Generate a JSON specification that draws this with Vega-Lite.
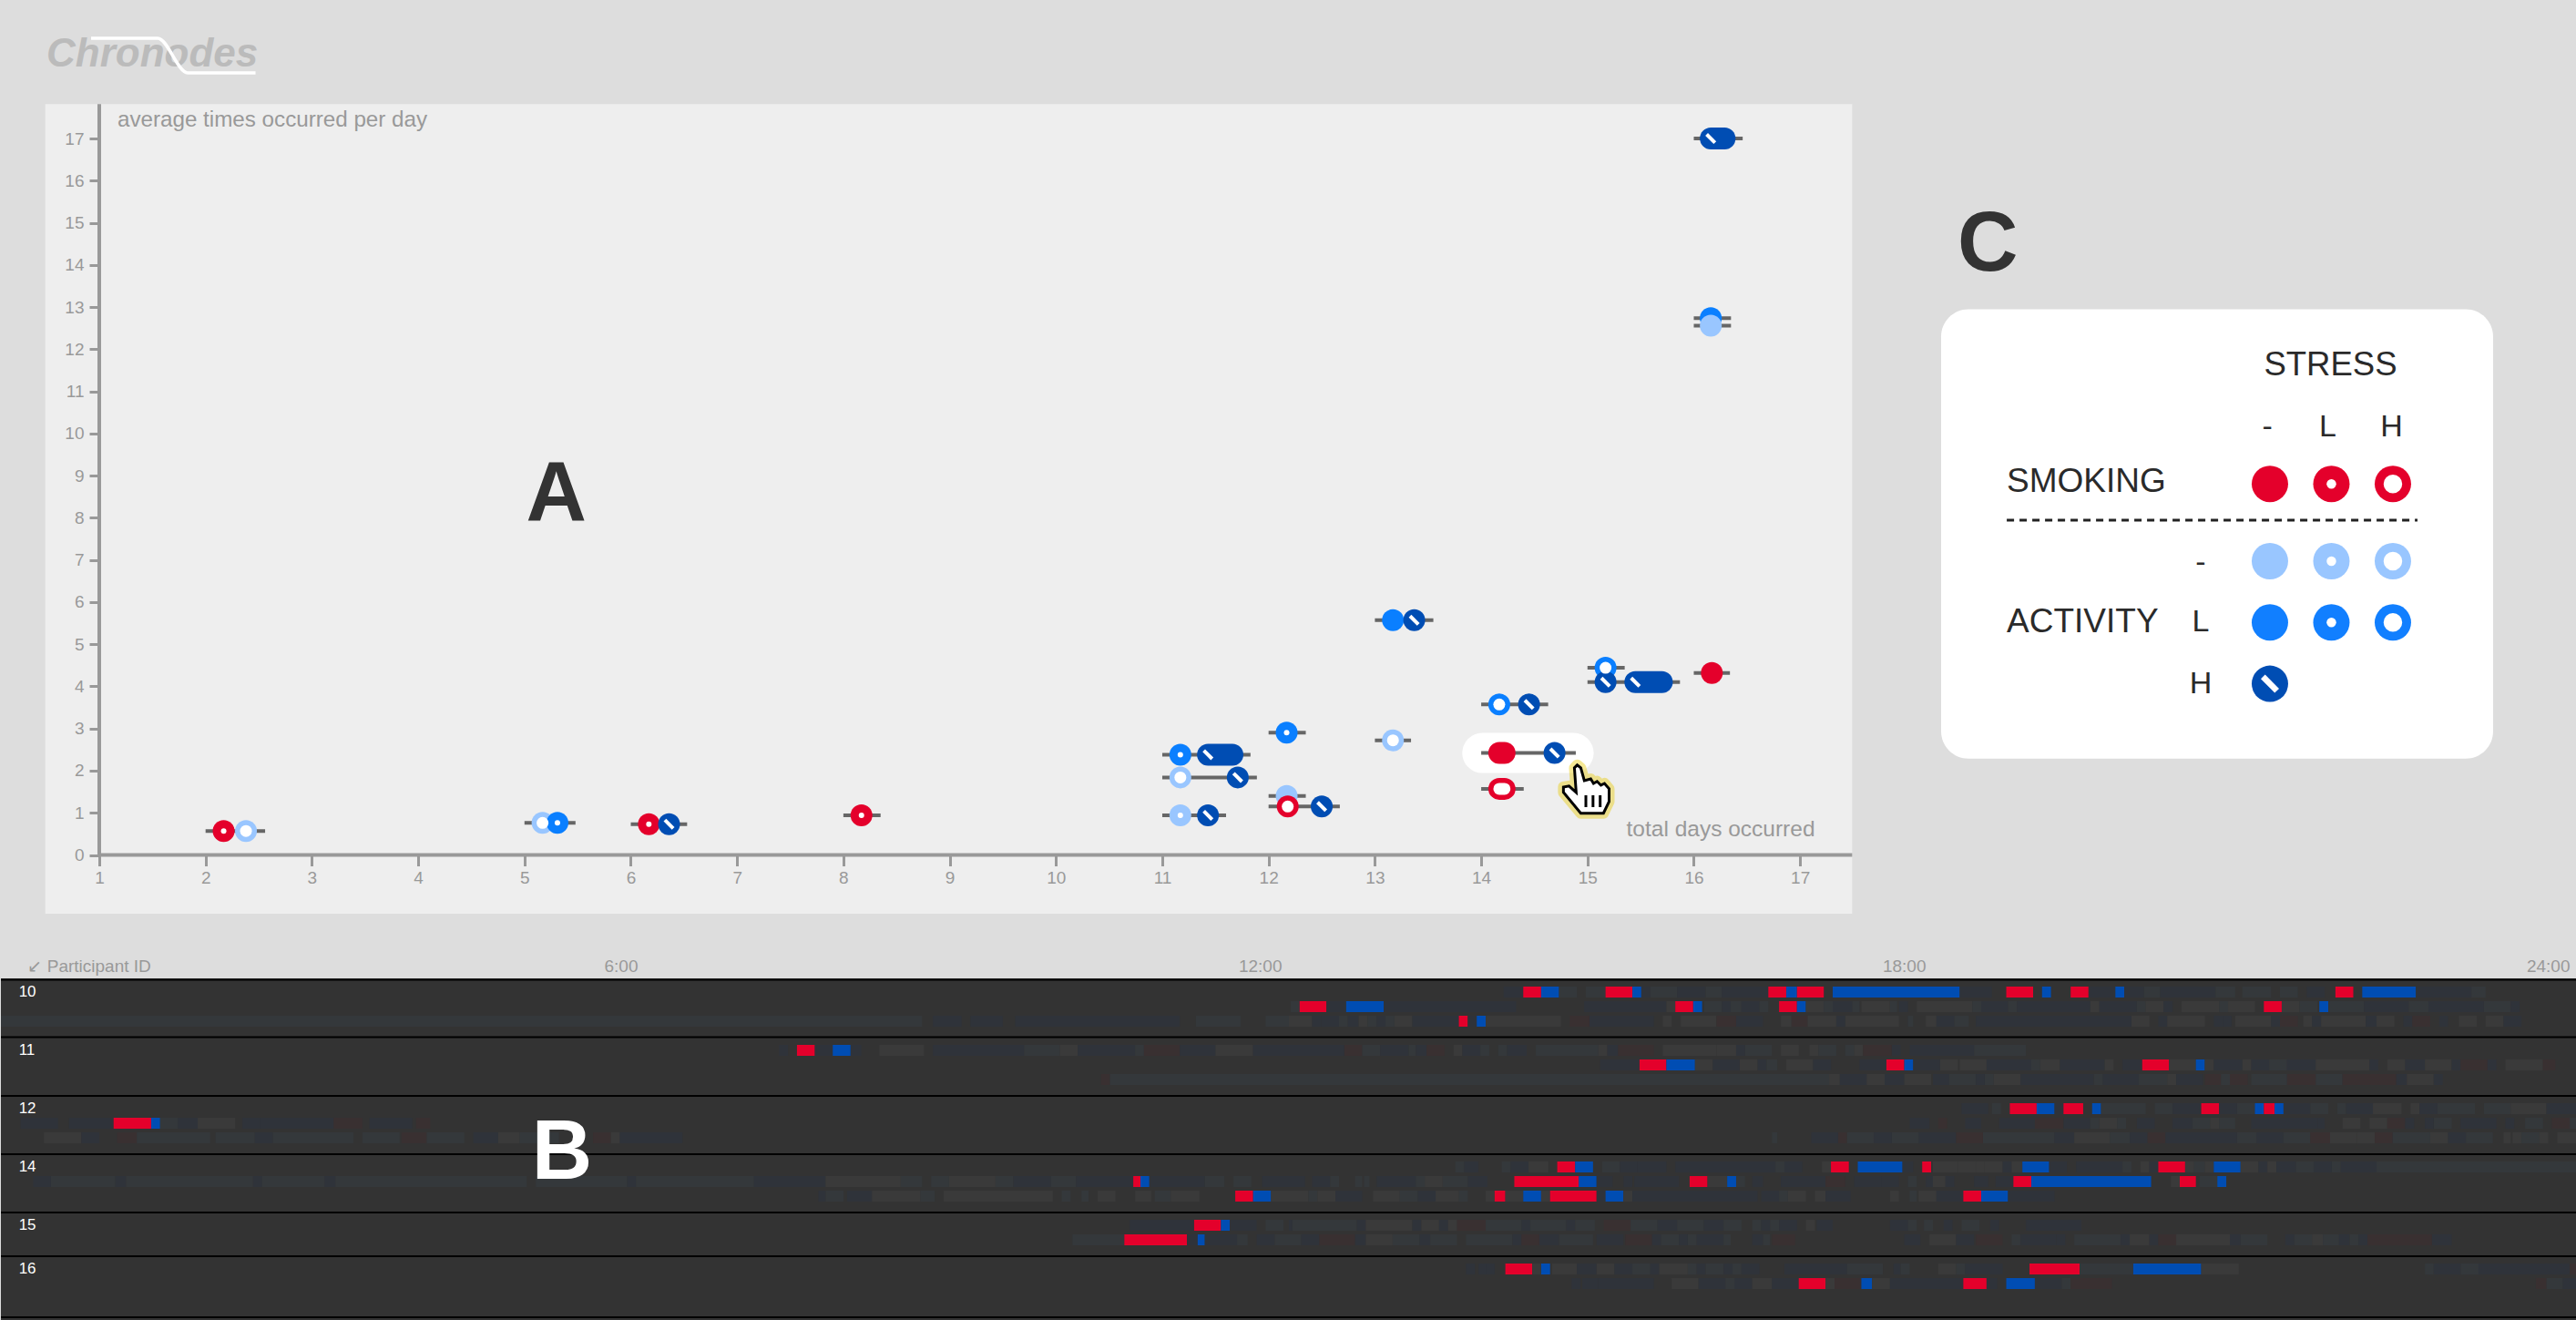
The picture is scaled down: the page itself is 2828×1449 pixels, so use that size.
{"$schema":"https://vega.github.io/schema/vega-lite/v6.json","padding":0,"background":"#dddddd","bounds":"flush","spacing":71,"resolve":{"scale":{"fill":"independent","stroke":"independent"}},"config":{"view":{"stroke":null},"font":"Liberation Sans"},
"datasets":{
"lines":[{"avg":5.57,"from":13,"to":13.55},{"avg":4.44,"from":15,"to":15.35},{"avg":4.1,"from":15,"to":15.87},{"avg":4.32,"from":16,"to":16.34},{"avg":3.57,"from":14,"to":14.63},{"avg":2.9,"from":12,"to":12.35},{"avg":2.72,"from":13,"to":13.34},{"avg":2.42,"from":14,"to":14.89},{"avg":1.57,"from":14,"to":14.4},{"avg":2.38,"from":11,"to":11.83},{"avg":1.84,"from":11,"to":11.89},{"avg":1.4,"from":12,"to":12.35},{"avg":1.15,"from":12,"to":12.67},{"avg":0.94,"from":11,"to":11.6},{"avg":17,"from":16,"to":16.46},{"avg":12.74,"from":16,"to":16.35},{"avg":12.56,"from":16,"to":16.35},{"avg":0.57,"from":2,"to":2.56},{"avg":0.76,"from":5,"to":5.48},{"avg":0.73,"from":6,"to":6.53},{"avg":0.94,"from":8,"to":8.35}],
"glyphs":[{"avg":5.57,"d0":13.17,"d1":13.17,"kind":"blue","stress":"none"},{"avg":5.57,"d0":13.37,"d1":13.37,"kind":"dark","stress":"none"},{"avg":4.44,"d0":15.17,"d1":15.17,"kind":"blue","stress":"high"},{"avg":4.1,"d0":15.17,"d1":15.17,"kind":"dark","stress":"none"},{"avg":4.1,"d0":15.45,"d1":15.7,"kind":"dark","stress":"none"},{"avg":4.32,"d0":16.17,"d1":16.17,"kind":"red","stress":"none"},{"avg":3.57,"d0":14.17,"d1":14.17,"kind":"blue","stress":"high"},{"avg":3.57,"d0":14.45,"d1":14.45,"kind":"dark","stress":"none"},{"avg":2.9,"d0":12.17,"d1":12.17,"kind":"blue","stress":"low"},{"avg":2.72,"d0":13.17,"d1":13.17,"kind":"light","stress":"high"},{"avg":2.42,"d0":14.17,"d1":14.22,"kind":"red","stress":"none"},{"avg":2.42,"d0":14.69,"d1":14.69,"kind":"dark","stress":"none"},{"avg":1.57,"d0":14.17,"d1":14.22,"kind":"red","stress":"high"},{"avg":2.38,"d0":11.17,"d1":11.17,"kind":"blue","stress":"low"},{"avg":2.38,"d0":11.43,"d1":11.66,"kind":"dark","stress":"none"},{"avg":1.84,"d0":11.17,"d1":11.17,"kind":"light","stress":"high"},{"avg":1.84,"d0":11.71,"d1":11.71,"kind":"dark","stress":"none"},{"avg":1.4,"d0":12.17,"d1":12.17,"kind":"light","stress":"none"},{"avg":1.15,"d0":12.18,"d1":12.18,"kind":"red","stress":"high"},{"avg":1.15,"d0":12.5,"d1":12.5,"kind":"dark","stress":"none"},{"avg":0.94,"d0":11.17,"d1":11.17,"kind":"light","stress":"low"},{"avg":0.94,"d0":11.43,"d1":11.43,"kind":"dark","stress":"none"},{"avg":17,"d0":16.16,"d1":16.29,"kind":"dark","stress":"none"},{"avg":12.74,"d0":16.16,"d1":16.16,"kind":"blue","stress":"none"},{"avg":12.56,"d0":16.16,"d1":16.16,"kind":"light","stress":"none"},{"avg":0.57,"d0":2.17,"d1":2.17,"kind":"red","stress":"low"},{"avg":0.57,"d0":2.38,"d1":2.38,"kind":"light","stress":"high"},{"avg":0.76,"d0":5.17,"d1":5.17,"kind":"light","stress":"high"},{"avg":0.76,"d0":5.31,"d1":5.31,"kind":"blue","stress":"low"},{"avg":0.73,"d0":6.17,"d1":6.17,"kind":"red","stress":"low"},{"avg":0.73,"d0":6.36,"d1":6.36,"kind":"dark","stress":"none"},{"avg":0.94,"d0":8.17,"d1":8.17,"kind":"red","stress":"low"}],
"key":[{"col":1,"row":3.26,"kind":"red","stress":"none"},{"col":2,"row":3.26,"kind":"red","stress":"low"},{"col":3,"row":3.26,"kind":"red","stress":"high"},{"col":1,"row":2,"kind":"light","stress":"none"},{"col":2,"row":2,"kind":"light","stress":"low"},{"col":3,"row":2,"kind":"light","stress":"high"},{"col":1,"row":1,"kind":"blue","stress":"none"},{"col":2,"row":1,"kind":"blue","stress":"low"},{"col":3,"row":1,"kind":"blue","stress":"high"},{"col":1,"row":0,"kind":"dark","stress":"none"}],
"bars":[
{"lane":0,"t0":840,"t1":851,"s":"d"},{"lane":0,"t0":851,"t1":861,"s":"S"},{"lane":0,"t0":861,"t1":871,"s":"A"},{"lane":0,"t0":871,"t1":881,"s":"e"},{"lane":0,"t0":886,"t1":897,"s":"e"},{"lane":0,"t0":897,"t1":912,"s":"S"},{"lane":0,"t0":912,"t1":917,"s":"A"},{"lane":0,"t0":917,"t1":922,"s":"d"},{"lane":0,"t0":922,"t1":937,"s":"e"},{"lane":0,"t0":937,"t1":953,"s":"d"},{"lane":0,"t0":953,"t1":962,"s":"e"},{"lane":0,"t0":962,"t1":988,"s":"d"},{"lane":0,"t0":988,"t1":998,"s":"S"},{"lane":0,"t0":998,"t1":1004,"s":"A"},{"lane":0,"t0":1004,"t1":1019,"s":"S"},{"lane":0,"t0":1024,"t1":1095,"s":"A"},{"lane":0,"t0":1095,"t1":1113,"s":"d"},{"lane":0,"t0":1121,"t1":1136,"s":"S"},{"lane":0,"t0":1141,"t1":1146,"s":"A"},{"lane":0,"t0":1157,"t1":1167,"s":"S"},{"lane":0,"t0":1167,"t1":1182,"s":"d"},{"lane":0,"t0":1182,"t1":1187,"s":"A"},{"lane":0,"t0":1187,"t1":1198,"s":"d"},{"lane":0,"t0":1198,"t1":1207,"s":"e"},{"lane":0,"t0":1207,"t1":1238,"s":"d"},{"lane":0,"t0":1238,"t1":1249,"s":"e"},{"lane":0,"t0":1253,"t1":1269,"s":"e"},{"lane":0,"t0":1274,"t1":1284,"s":"e"},{"lane":0,"t0":1289,"t1":1299,"s":"d"},{"lane":0,"t0":1305,"t1":1315,"s":"S"},{"lane":0,"t0":1320,"t1":1350,"s":"A"},{"lane":0,"t0":1350,"t1":1381,"s":"d"},{"lane":0,"t0":1381,"t1":1389,"s":"e"},
{"lane":1,"t0":721,"t1":726,"s":"e"},{"lane":1,"t0":726,"t1":741,"s":"S"},{"lane":1,"t0":741,"t1":752,"s":"d"},{"lane":1,"t0":752,"t1":773,"s":"A"},{"lane":1,"t0":773,"t1":847,"s":"d"},{"lane":1,"t0":885,"t1":931,"s":"d"},{"lane":1,"t0":931,"t1":936,"s":"g"},{"lane":1,"t0":936,"t1":946,"s":"S"},{"lane":1,"t0":946,"t1":951,"s":"A"},{"lane":1,"t0":952,"t1":962,"s":"e"},{"lane":1,"t0":962,"t1":967,"s":"d"},{"lane":1,"t0":967,"t1":973,"s":"e"},{"lane":1,"t0":973,"t1":983,"s":"d"},{"lane":1,"t0":983,"t1":988,"s":"e"},{"lane":1,"t0":994,"t1":1004,"s":"S"},{"lane":1,"t0":1004,"t1":1009,"s":"A"},{"lane":1,"t0":1009,"t1":1019,"s":"g"},{"lane":1,"t0":1019,"t1":1024,"s":"e"},{"lane":1,"t0":1024,"t1":1035,"s":"d"},{"lane":1,"t0":1035,"t1":1039,"s":"e"},{"lane":1,"t0":1040,"t1":1056,"s":"g"},{"lane":1,"t0":1056,"t1":1060,"s":"e"},{"lane":1,"t0":1061,"t1":1066,"s":"d"},{"lane":1,"t0":1071,"t1":1102,"s":"g"},{"lane":1,"t0":1102,"t1":1107,"s":"e"},{"lane":1,"t0":1107,"t1":1122,"s":"d"},{"lane":1,"t0":1122,"t1":1127,"s":"e"},{"lane":1,"t0":1127,"t1":1168,"s":"d"},{"lane":1,"t0":1168,"t1":1173,"s":"g"},{"lane":1,"t0":1173,"t1":1194,"s":"d"},{"lane":1,"t0":1194,"t1":1199,"s":"e"},{"lane":1,"t0":1199,"t1":1209,"s":"g"},{"lane":1,"t0":1209,"t1":1214,"s":"d"},{"lane":1,"t0":1219,"t1":1240,"s":"g"},{"lane":1,"t0":1240,"t1":1245,"s":"e"},{"lane":1,"t0":1245,"t1":1260,"s":"g"},{"lane":1,"t0":1265,"t1":1275,"s":"S"},{"lane":1,"t0":1275,"t1":1285,"s":"g"},{"lane":1,"t0":1285,"t1":1295,"s":"e"},{"lane":1,"t0":1296,"t1":1301,"s":"A"},{"lane":1,"t0":1301,"t1":1321,"s":"e"},{"lane":1,"t0":1321,"t1":1346,"s":"d"},{"lane":1,"t0":1346,"t1":1357,"s":"e"},{"lane":1,"t0":1357,"t1":1388,"s":"d"},{"lane":1,"t0":1388,"t1":1403,"s":"e"},{"lane":1,"t0":1403,"t1":1408,"s":"d"},
{"lane":2,"t0":0,"t1":515,"s":"e"},{"lane":2,"t0":521,"t1":537,"s":"d"},{"lane":2,"t0":542,"t1":560,"s":"d"},{"lane":2,"t0":567,"t1":659,"s":"d"},{"lane":2,"t0":668,"t1":693,"s":"e"},{"lane":2,"t0":707,"t1":720,"s":"e"},{"lane":2,"t0":720,"t1":733,"s":"g"},{"lane":2,"t0":733,"t1":738,"s":"d"},{"lane":2,"t0":738,"t1":748,"s":"d"},{"lane":2,"t0":748,"t1":753,"s":"e"},{"lane":2,"t0":753,"t1":759,"s":"d"},{"lane":2,"t0":759,"t1":764,"s":"g"},{"lane":2,"t0":764,"t1":769,"s":"e"},{"lane":2,"t0":769,"t1":774,"s":"d"},{"lane":2,"t0":774,"t1":779,"s":"e"},{"lane":2,"t0":779,"t1":789,"s":"g"},{"lane":2,"t0":789,"t1":815,"s":"d"},{"lane":2,"t0":815,"t1":820,"s":"S"},{"lane":2,"t0":820,"t1":825,"s":"d"},{"lane":2,"t0":825,"t1":830,"s":"A"},{"lane":2,"t0":830,"t1":872,"s":"g"},{"lane":2,"t0":877,"t1":888,"s":"r"},{"lane":2,"t0":888,"t1":924,"s":"d"},{"lane":2,"t0":929,"t1":934,"s":"g"},{"lane":2,"t0":939,"t1":959,"s":"g"},{"lane":2,"t0":959,"t1":970,"s":"r"},{"lane":2,"t0":970,"t1":985,"s":"d"},{"lane":2,"t0":995,"t1":1001,"s":"g"},{"lane":2,"t0":1001,"t1":1010,"s":"r"},{"lane":2,"t0":1010,"t1":1026,"s":"g"},{"lane":2,"t0":1026,"t1":1031,"s":"d"},{"lane":2,"t0":1031,"t1":1061,"s":"g"},{"lane":2,"t0":1066,"t1":1069,"s":"e"},{"lane":2,"t0":1076,"t1":1082,"s":"g"},{"lane":2,"t0":1082,"t1":1092,"s":"d"},{"lane":2,"t0":1092,"t1":1100,"s":"e"},{"lane":2,"t0":1104,"t1":1191,"s":"d"},{"lane":2,"t0":1191,"t1":1201,"s":"g"},{"lane":2,"t0":1206,"t1":1211,"s":"d"},{"lane":2,"t0":1211,"t1":1232,"s":"g"},{"lane":2,"t0":1237,"t1":1242,"s":"d"},{"lane":2,"t0":1242,"t1":1247,"s":"d"},{"lane":2,"t0":1249,"t1":1269,"s":"g"},{"lane":2,"t0":1269,"t1":1274,"s":"d"},{"lane":2,"t0":1274,"t1":1284,"s":"r"},{"lane":2,"t0":1287,"t1":1292,"s":"g"},{"lane":2,"t0":1292,"t1":1297,"s":"d"},{"lane":2,"t0":1297,"t1":1322,"s":"g"},{"lane":2,"t0":1322,"t1":1328,"s":"d"},{"lane":2,"t0":1328,"t1":1338,"s":"g"},{"lane":2,"t0":1343,"t1":1348,"s":"d"},{"lane":2,"t0":1348,"t1":1358,"s":"r"},{"lane":2,"t0":1363,"t1":1368,"s":"d"},{"lane":2,"t0":1374,"t1":1384,"s":"g"},{"lane":2,"t0":1389,"t1":1399,"s":"g"},{"lane":2,"t0":1399,"t1":1409,"s":"d"},
{"lane":4,"t0":435,"t1":440,"s":"d"},{"lane":4,"t0":445,"t1":455,"s":"S"},{"lane":4,"t0":455,"t1":465,"s":"d"},{"lane":4,"t0":465,"t1":475,"s":"A"},{"lane":4,"t0":475,"t1":481,"s":"d"},{"lane":4,"t0":491,"t1":516,"s":"g"},{"lane":4,"t0":521,"t1":572,"s":"d"},{"lane":4,"t0":572,"t1":592,"s":"e"},{"lane":4,"t0":592,"t1":602,"s":"g"},{"lane":4,"t0":602,"t1":634,"s":"d"},{"lane":4,"t0":634,"t1":639,"s":"e"},{"lane":4,"t0":639,"t1":659,"s":"r"},{"lane":4,"t0":659,"t1":679,"s":"d"},{"lane":4,"t0":679,"t1":700,"s":"g"},{"lane":4,"t0":700,"t1":751,"s":"d"},{"lane":4,"t0":751,"t1":761,"s":"r"},{"lane":4,"t0":761,"t1":771,"s":"e"},{"lane":4,"t0":771,"t1":787,"s":"d"},{"lane":4,"t0":787,"t1":791,"s":"e"},{"lane":4,"t0":791,"t1":797,"s":"d"},{"lane":4,"t0":797,"t1":807,"s":"r"},{"lane":4,"t0":812,"t1":817,"s":"g"},{"lane":4,"t0":817,"t1":827,"s":"d"},{"lane":4,"t0":827,"t1":832,"s":"e"},{"lane":4,"t0":837,"t1":842,"s":"e"},{"lane":4,"t0":842,"t1":853,"s":"d"},{"lane":4,"t0":858,"t1":893,"s":"e"},{"lane":4,"t0":893,"t1":898,"s":"g"},{"lane":4,"t0":898,"t1":904,"s":"d"},{"lane":4,"t0":904,"t1":924,"s":"r"},{"lane":4,"t0":929,"t1":959,"s":"g"},{"lane":4,"t0":959,"t1":970,"s":"g"},{"lane":4,"t0":970,"t1":975,"s":"d"},{"lane":4,"t0":975,"t1":990,"s":"e"},{"lane":4,"t0":995,"t1":1005,"s":"g"},{"lane":4,"t0":1011,"t1":1016,"s":"g"},{"lane":4,"t0":1016,"t1":1026,"s":"e"},{"lane":4,"t0":1031,"t1":1036,"s":"e"},{"lane":4,"t0":1036,"t1":1041,"s":"g"},{"lane":4,"t0":1041,"t1":1057,"s":"r"},{"lane":4,"t0":1057,"t1":1062,"s":"d"},{"lane":4,"t0":1067,"t1":1103,"s":"d"},{"lane":4,"t0":1103,"t1":1132,"s":"e"},
{"lane":5,"t0":894,"t1":916,"s":"d"},{"lane":5,"t0":916,"t1":931,"s":"S"},{"lane":5,"t0":931,"t1":947,"s":"A"},{"lane":5,"t0":947,"t1":957,"s":"g"},{"lane":5,"t0":957,"t1":972,"s":"d"},{"lane":5,"t0":972,"t1":982,"s":"g"},{"lane":5,"t0":982,"t1":987,"s":"d"},{"lane":5,"t0":987,"t1":993,"s":"e"},{"lane":5,"t0":998,"t1":1013,"s":"g"},{"lane":5,"t0":1013,"t1":1023,"s":"d"},{"lane":5,"t0":1039,"t1":1054,"s":"d"},{"lane":5,"t0":1054,"t1":1064,"s":"S"},{"lane":5,"t0":1064,"t1":1069,"s":"A"},{"lane":5,"t0":1069,"t1":1084,"s":"d"},{"lane":5,"t0":1084,"t1":1094,"s":"g"},{"lane":5,"t0":1095,"t1":1110,"s":"g"},{"lane":5,"t0":1110,"t1":1135,"s":"d"},{"lane":5,"t0":1135,"t1":1140,"s":"e"},{"lane":5,"t0":1140,"t1":1151,"s":"g"},{"lane":5,"t0":1151,"t1":1176,"s":"d"},{"lane":5,"t0":1176,"t1":1181,"s":"g"},{"lane":5,"t0":1186,"t1":1197,"s":"d"},{"lane":5,"t0":1197,"t1":1212,"s":"S"},{"lane":5,"t0":1212,"t1":1227,"s":"g"},{"lane":5,"t0":1227,"t1":1232,"s":"A"},{"lane":5,"t0":1232,"t1":1237,"s":"g"},{"lane":5,"t0":1237,"t1":1253,"s":"d"},{"lane":5,"t0":1253,"t1":1258,"s":"g"},{"lane":5,"t0":1258,"t1":1268,"s":"d"},{"lane":5,"t0":1268,"t1":1278,"s":"e"},{"lane":5,"t0":1278,"t1":1294,"s":"d"},{"lane":5,"t0":1294,"t1":1324,"s":"g"},{"lane":5,"t0":1324,"t1":1329,"s":"d"},{"lane":5,"t0":1334,"t1":1344,"s":"g"},{"lane":5,"t0":1344,"t1":1355,"s":"d"},{"lane":5,"t0":1355,"t1":1370,"s":"g"},{"lane":5,"t0":1370,"t1":1375,"s":"d"},{"lane":5,"t0":1375,"t1":1390,"s":"r"},{"lane":5,"t0":1390,"t1":1395,"s":"d"},{"lane":5,"t0":1400,"t1":1421,"s":"g"},{"lane":5,"t0":1421,"t1":1428,"s":"r"},
{"lane":6,"t0":615,"t1":620,"s":"r"},{"lane":6,"t0":620,"t1":1022,"s":"e"},{"lane":6,"t0":1022,"t1":1028,"s":"g"},{"lane":6,"t0":1028,"t1":1043,"s":"d"},{"lane":6,"t0":1043,"t1":1053,"s":"g"},{"lane":6,"t0":1053,"t1":1064,"s":"d"},{"lane":6,"t0":1064,"t1":1079,"s":"g"},{"lane":6,"t0":1080,"t1":1089,"s":"d"},{"lane":6,"t0":1089,"t1":1104,"s":"e"},{"lane":6,"t0":1104,"t1":1109,"s":"d"},{"lane":6,"t0":1109,"t1":1114,"s":"e"},{"lane":6,"t0":1114,"t1":1129,"s":"g"},{"lane":6,"t0":1129,"t1":1170,"s":"d"},{"lane":6,"t0":1170,"t1":1175,"s":"e"},{"lane":6,"t0":1175,"t1":1195,"s":"d"},{"lane":6,"t0":1195,"t1":1211,"s":"e"},{"lane":6,"t0":1211,"t1":1216,"s":"g"},{"lane":6,"t0":1216,"t1":1231,"s":"d"},{"lane":6,"t0":1232,"t1":1241,"s":"r"},{"lane":6,"t0":1241,"t1":1246,"s":"e"},{"lane":6,"t0":1246,"t1":1256,"s":"r"},{"lane":6,"t0":1258,"t1":1278,"s":"e"},{"lane":6,"t0":1278,"t1":1294,"s":"r"},{"lane":6,"t0":1294,"t1":1309,"s":"e"},{"lane":6,"t0":1309,"t1":1339,"s":"r"},{"lane":6,"t0":1339,"t1":1345,"s":"d"},{"lane":6,"t0":1345,"t1":1360,"s":"g"},{"lane":6,"t0":1360,"t1":1365,"s":"d"},
{"lane":8,"t0":1096,"t1":1111,"s":"d"},{"lane":8,"t0":1113,"t1":1118,"s":"e"},{"lane":8,"t0":1123,"t1":1138,"s":"S"},{"lane":8,"t0":1138,"t1":1148,"s":"A"},{"lane":8,"t0":1148,"t1":1153,"s":"d"},{"lane":8,"t0":1153,"t1":1164,"s":"S"},{"lane":8,"t0":1169,"t1":1174,"s":"A"},{"lane":8,"t0":1174,"t1":1199,"s":"e"},{"lane":8,"t0":1204,"t1":1214,"s":"e"},{"lane":8,"t0":1214,"t1":1230,"s":"d"},{"lane":8,"t0":1230,"t1":1240,"s":"S"},{"lane":8,"t0":1240,"t1":1250,"s":"d"},{"lane":8,"t0":1250,"t1":1260,"s":"e"},{"lane":8,"t0":1260,"t1":1265,"s":"A"},{"lane":8,"t0":1265,"t1":1271,"s":"S"},{"lane":8,"t0":1271,"t1":1276,"s":"A"},{"lane":8,"t0":1276,"t1":1291,"s":"d"},{"lane":8,"t0":1291,"t1":1301,"s":"e"},{"lane":8,"t0":1306,"t1":1311,"s":"e"},{"lane":8,"t0":1311,"t1":1326,"s":"d"},{"lane":8,"t0":1326,"t1":1342,"s":"g"},{"lane":8,"t0":1347,"t1":1352,"s":"g"},{"lane":8,"t0":1352,"t1":1362,"s":"d"},{"lane":8,"t0":1362,"t1":1383,"s":"e"},{"lane":8,"t0":1388,"t1":1403,"s":"e"},{"lane":8,"t0":1403,"t1":1423,"s":"g"},{"lane":8,"t0":1423,"t1":1440,"s":"d"},
{"lane":9,"t0":11,"t1":32,"s":"d"},{"lane":9,"t0":38,"t1":63,"s":"d"},{"lane":9,"t0":63,"t1":84,"s":"S"},{"lane":9,"t0":84,"t1":89,"s":"A"},{"lane":9,"t0":89,"t1":99,"s":"e"},{"lane":9,"t0":99,"t1":110,"s":"d"},{"lane":9,"t0":110,"t1":131,"s":"g"},{"lane":9,"t0":135,"t1":145,"s":"d"},{"lane":9,"t0":145,"t1":186,"s":"d"},{"lane":9,"t0":186,"t1":202,"s":"r"},{"lane":9,"t0":206,"t1":230,"s":"d"},{"lane":9,"t0":232,"t1":240,"s":"r"},{"lane":9,"t0":1067,"t1":1078,"s":"d"},{"lane":9,"t0":1083,"t1":1088,"s":"r"},{"lane":9,"t0":1098,"t1":1107,"s":"d"},{"lane":9,"t0":1117,"t1":1137,"s":"d"},{"lane":9,"t0":1137,"t1":1153,"s":"r"},{"lane":9,"t0":1153,"t1":1168,"s":"d"},{"lane":9,"t0":1168,"t1":1173,"s":"e"},{"lane":9,"t0":1173,"t1":1183,"s":"g"},{"lane":9,"t0":1183,"t1":1188,"s":"e"},{"lane":9,"t0":1194,"t1":1204,"s":"d"},{"lane":9,"t0":1214,"t1":1225,"s":"d"},{"lane":9,"t0":1225,"t1":1235,"s":"e"},{"lane":9,"t0":1235,"t1":1240,"s":"g"},{"lane":9,"t0":1240,"t1":1249,"s":"e"},{"lane":9,"t0":1258,"t1":1295,"s":"d"},{"lane":9,"t0":1295,"t1":1299,"s":"d"},{"lane":9,"t0":1309,"t1":1319,"s":"g"},{"lane":9,"t0":1324,"t1":1334,"s":"g"},{"lane":9,"t0":1334,"t1":1344,"s":"r"},{"lane":9,"t0":1344,"t1":1349,"s":"d"},{"lane":9,"t0":1355,"t1":1360,"s":"d"},{"lane":9,"t0":1360,"t1":1370,"s":"e"},{"lane":9,"t0":1375,"t1":1395,"s":"d"},{"lane":9,"t0":1400,"t1":1405,"s":"d"},{"lane":9,"t0":1411,"t1":1421,"s":"e"},{"lane":9,"t0":1426,"t1":1436,"s":"r"},{"lane":9,"t0":1436,"t1":1440,"s":"e"},
{"lane":10,"t0":24,"t1":45,"s":"g"},{"lane":10,"t0":45,"t1":55,"s":"d"},{"lane":10,"t0":65,"t1":76,"s":"r"},{"lane":10,"t0":76,"t1":117,"s":"e"},{"lane":10,"t0":120,"t1":142,"s":"e"},{"lane":10,"t0":142,"t1":152,"s":"d"},{"lane":10,"t0":152,"t1":197,"s":"e"},{"lane":10,"t0":202,"t1":223,"s":"e"},{"lane":10,"t0":224,"t1":238,"s":"r"},{"lane":10,"t0":238,"t1":259,"s":"e"},{"lane":10,"t0":264,"t1":278,"s":"d"},{"lane":10,"t0":278,"t1":290,"s":"g"},{"lane":10,"t0":290,"t1":312,"s":"e"},{"lane":10,"t0":331,"t1":341,"s":"r"},{"lane":10,"t0":341,"t1":346,"s":"g"},{"lane":10,"t0":346,"t1":381,"s":"d"},{"lane":10,"t0":990,"t1":993,"s":"e"},{"lane":10,"t0":1012,"t1":1027,"s":"d"},{"lane":10,"t0":1027,"t1":1032,"s":"r"},{"lane":10,"t0":1032,"t1":1047,"s":"e"},{"lane":10,"t0":1047,"t1":1057,"s":"d"},{"lane":10,"t0":1057,"t1":1072,"s":"e"},{"lane":10,"t0":1072,"t1":1093,"s":"d"},{"lane":10,"t0":1093,"t1":1108,"s":"r"},{"lane":10,"t0":1108,"t1":1148,"s":"e"},{"lane":10,"t0":1148,"t1":1159,"s":"d"},{"lane":10,"t0":1159,"t1":1179,"s":"g"},{"lane":10,"t0":1179,"t1":1190,"s":"e"},{"lane":10,"t0":1190,"t1":1200,"s":"d"},{"lane":10,"t0":1200,"t1":1210,"s":"r"},{"lane":10,"t0":1210,"t1":1250,"s":"d"},{"lane":10,"t0":1250,"t1":1261,"s":"e"},{"lane":10,"t0":1261,"t1":1276,"s":"d"},{"lane":10,"t0":1276,"t1":1291,"s":"e"},{"lane":10,"t0":1291,"t1":1302,"s":"r"},{"lane":10,"t0":1302,"t1":1317,"s":"g"},{"lane":10,"t0":1317,"t1":1327,"s":"g"},{"lane":10,"t0":1327,"t1":1337,"s":"r"},{"lane":10,"t0":1337,"t1":1358,"s":"e"},{"lane":10,"t0":1358,"t1":1368,"s":"g"},{"lane":10,"t0":1368,"t1":1378,"s":"d"},{"lane":10,"t0":1378,"t1":1393,"s":"e"},{"lane":10,"t0":1399,"t1":1403,"s":"g"},{"lane":10,"t0":1404,"t1":1409,"s":"g"},{"lane":10,"t0":1409,"t1":1419,"s":"e"},{"lane":10,"t0":1419,"t1":1424,"s":"g"},{"lane":10,"t0":1429,"t1":1440,"s":"g"},
{"lane":12,"t0":813,"t1":818,"s":"e"},{"lane":12,"t0":818,"t1":826,"s":"d"},{"lane":12,"t0":839,"t1":844,"s":"e"},{"lane":12,"t0":844,"t1":854,"s":"d"},{"lane":12,"t0":854,"t1":865,"s":"g"},{"lane":12,"t0":870,"t1":880,"s":"S"},{"lane":12,"t0":880,"t1":890,"s":"A"},{"lane":12,"t0":895,"t1":905,"s":"e"},{"lane":12,"t0":905,"t1":915,"s":"d"},{"lane":12,"t0":915,"t1":931,"s":"d"},{"lane":12,"t0":936,"t1":992,"s":"d"},{"lane":12,"t0":992,"t1":997,"s":"e"},{"lane":12,"t0":997,"t1":1007,"s":"d"},{"lane":12,"t0":1018,"t1":1023,"s":"g"},{"lane":12,"t0":1023,"t1":1033,"s":"S"},{"lane":12,"t0":1038,"t1":1063,"s":"A"},{"lane":12,"t0":1063,"t1":1069,"s":"d"},{"lane":12,"t0":1074,"t1":1079,"s":"S"},{"lane":12,"t0":1080,"t1":1094,"s":"g"},{"lane":12,"t0":1094,"t1":1104,"s":"g"},{"lane":12,"t0":1104,"t1":1109,"s":"g"},{"lane":12,"t0":1109,"t1":1119,"s":"g"},{"lane":12,"t0":1119,"t1":1124,"s":"d"},{"lane":12,"t0":1124,"t1":1130,"s":"g"},{"lane":12,"t0":1130,"t1":1145,"s":"A"},{"lane":12,"t0":1145,"t1":1155,"s":"d"},{"lane":12,"t0":1160,"t1":1186,"s":"d"},{"lane":12,"t0":1186,"t1":1191,"s":"e"},{"lane":12,"t0":1196,"t1":1201,"s":"g"},{"lane":12,"t0":1201,"t1":1206,"s":"d"},{"lane":12,"t0":1206,"t1":1221,"s":"S"},{"lane":12,"t0":1221,"t1":1226,"s":"g"},{"lane":12,"t0":1226,"t1":1232,"s":"e"},{"lane":12,"t0":1232,"t1":1237,"s":"g"},{"lane":12,"t0":1237,"t1":1252,"s":"A"},{"lane":12,"t0":1252,"t1":1262,"s":"g"},{"lane":12,"t0":1262,"t1":1267,"s":"d"},{"lane":12,"t0":1267,"t1":1272,"s":"g"},{"lane":12,"t0":1272,"t1":1283,"s":"d"},{"lane":12,"t0":1283,"t1":1293,"s":"e"},{"lane":12,"t0":1293,"t1":1303,"s":"d"},{"lane":12,"t0":1303,"t1":1308,"s":"e"},{"lane":12,"t0":1308,"t1":1328,"s":"d"},{"lane":12,"t0":1328,"t1":1440,"s":"e"},
{"lane":13,"t0":18,"t1":28,"s":"d"},{"lane":13,"t0":28,"t1":64,"s":"e"},{"lane":13,"t0":64,"t1":70,"s":"d"},{"lane":13,"t0":70,"t1":141,"s":"e"},{"lane":13,"t0":141,"t1":146,"s":"d"},{"lane":13,"t0":146,"t1":181,"s":"e"},{"lane":13,"t0":181,"t1":187,"s":"d"},{"lane":13,"t0":187,"t1":294,"s":"e"},{"lane":13,"t0":299,"t1":350,"s":"e"},{"lane":13,"t0":350,"t1":355,"s":"d"},{"lane":13,"t0":355,"t1":421,"s":"e"},{"lane":13,"t0":421,"t1":461,"s":"d"},{"lane":13,"t0":461,"t1":503,"s":"g"},{"lane":13,"t0":503,"t1":515,"s":"e"},{"lane":13,"t0":520,"t1":530,"s":"e"},{"lane":13,"t0":530,"t1":556,"s":"g"},{"lane":13,"t0":556,"t1":566,"s":"e"},{"lane":13,"t0":566,"t1":587,"s":"d"},{"lane":13,"t0":587,"t1":601,"s":"e"},{"lane":13,"t0":601,"t1":633,"s":"d"},{"lane":13,"t0":633,"t1":637,"s":"S"},{"lane":13,"t0":637,"t1":642,"s":"A"},{"lane":13,"t0":642,"t1":673,"s":"d"},{"lane":13,"t0":673,"t1":684,"s":"e"},{"lane":13,"t0":689,"t1":699,"s":"e"},{"lane":13,"t0":705,"t1":729,"s":"d"},{"lane":13,"t0":733,"t1":743,"s":"d"},{"lane":13,"t0":743,"t1":748,"s":"e"},{"lane":13,"t0":757,"t1":761,"s":"e"},{"lane":13,"t0":762,"t1":765,"s":"e"},{"lane":13,"t0":769,"t1":791,"s":"d"},{"lane":13,"t0":791,"t1":796,"s":"e"},{"lane":13,"t0":796,"t1":806,"s":"g"},{"lane":13,"t0":806,"t1":820,"s":"e"},{"lane":13,"t0":820,"t1":831,"s":"d"},{"lane":13,"t0":846,"t1":882,"s":"S"},{"lane":13,"t0":882,"t1":892,"s":"A"},{"lane":13,"t0":892,"t1":901,"s":"d"},{"lane":13,"t0":907,"t1":912,"s":"d"},{"lane":13,"t0":913,"t1":938,"s":"d"},{"lane":13,"t0":944,"t1":954,"s":"S"},{"lane":13,"t0":954,"t1":965,"s":"g"},{"lane":13,"t0":965,"t1":970,"s":"A"},{"lane":13,"t0":970,"t1":975,"s":"e"},{"lane":13,"t0":979,"t1":985,"s":"d"},{"lane":13,"t0":995,"t1":1020,"s":"d"},{"lane":13,"t0":1020,"t1":1031,"s":"r"},{"lane":13,"t0":1036,"t1":1051,"s":"d"},{"lane":13,"t0":1051,"t1":1061,"s":"d"},{"lane":13,"t0":1066,"t1":1071,"s":"e"},{"lane":13,"t0":1076,"t1":1080,"s":"d"},{"lane":13,"t0":1080,"t1":1087,"s":"g"},{"lane":13,"t0":1087,"t1":1092,"s":"d"},{"lane":13,"t0":1103,"t1":1111,"s":"d"},{"lane":13,"t0":1115,"t1":1125,"s":"d"},{"lane":13,"t0":1125,"t1":1135,"s":"S"},{"lane":13,"t0":1135,"t1":1202,"s":"A"},{"lane":13,"t0":1213,"t1":1218,"s":"g"},{"lane":13,"t0":1218,"t1":1227,"s":"S"},{"lane":13,"t0":1229,"t1":1239,"s":"e"},{"lane":13,"t0":1239,"t1":1244,"s":"A"},
{"lane":14,"t0":457,"t1":461,"s":"d"},{"lane":14,"t0":461,"t1":471,"s":"e"},{"lane":14,"t0":473,"t1":487,"s":"d"},{"lane":14,"t0":487,"t1":514,"s":"g"},{"lane":14,"t0":514,"t1":522,"s":"e"},{"lane":14,"t0":527,"t1":588,"s":"g"},{"lane":14,"t0":593,"t1":598,"s":"e"},{"lane":14,"t0":604,"t1":608,"s":"e"},{"lane":14,"t0":613,"t1":623,"s":"g"},{"lane":14,"t0":634,"t1":643,"s":"g"},{"lane":14,"t0":645,"t1":654,"s":"e"},{"lane":14,"t0":654,"t1":670,"s":"g"},{"lane":14,"t0":690,"t1":700,"s":"S"},{"lane":14,"t0":700,"t1":710,"s":"A"},{"lane":14,"t0":710,"t1":731,"s":"g"},{"lane":14,"t0":731,"t1":736,"s":"e"},{"lane":14,"t0":736,"t1":746,"s":"g"},{"lane":14,"t0":746,"t1":761,"s":"d"},{"lane":14,"t0":767,"t1":782,"s":"g"},{"lane":14,"t0":782,"t1":792,"s":"e"},{"lane":14,"t0":792,"t1":802,"s":"d"},{"lane":14,"t0":802,"t1":815,"s":"g"},{"lane":14,"t0":815,"t1":820,"s":"e"},{"lane":14,"t0":830,"t1":835,"s":"g"},{"lane":14,"t0":835,"t1":841,"s":"S"},{"lane":14,"t0":841,"t1":851,"s":"g"},{"lane":14,"t0":851,"t1":861,"s":"A"},{"lane":14,"t0":861,"t1":866,"s":"g"},{"lane":14,"t0":866,"t1":892,"s":"S"},{"lane":14,"t0":892,"t1":897,"s":"d"},{"lane":14,"t0":897,"t1":907,"s":"A"},{"lane":14,"t0":907,"t1":912,"s":"g"},{"lane":14,"t0":912,"t1":982,"s":"d"},{"lane":14,"t0":984,"t1":994,"s":"d"},{"lane":14,"t0":994,"t1":999,"s":"e"},{"lane":14,"t0":999,"t1":1009,"s":"g"},{"lane":14,"t0":1014,"t1":1020,"s":"g"},{"lane":14,"t0":1020,"t1":1034,"s":"d"},{"lane":14,"t0":1056,"t1":1061,"s":"g"},{"lane":14,"t0":1067,"t1":1071,"s":"e"},{"lane":14,"t0":1072,"t1":1082,"s":"g"},{"lane":14,"t0":1082,"t1":1097,"s":"d"},{"lane":14,"t0":1097,"t1":1107,"s":"S"},{"lane":14,"t0":1107,"t1":1122,"s":"A"},{"lane":14,"t0":1122,"t1":1148,"s":"d"},
{"lane":16,"t0":631,"t1":667,"s":"d"},{"lane":16,"t0":667,"t1":682,"s":"S"},{"lane":16,"t0":682,"t1":687,"s":"A"},{"lane":16,"t0":687,"t1":702,"s":"d"},{"lane":16,"t0":707,"t1":717,"s":"e"},{"lane":16,"t0":720,"t1":722,"s":"d"},{"lane":16,"t0":722,"t1":758,"s":"e"},{"lane":16,"t0":758,"t1":763,"s":"d"},{"lane":16,"t0":763,"t1":789,"s":"g"},{"lane":16,"t0":789,"t1":794,"s":"d"},{"lane":16,"t0":794,"t1":804,"s":"g"},{"lane":16,"t0":804,"t1":809,"s":"d"},{"lane":16,"t0":809,"t1":814,"s":"g"},{"lane":16,"t0":814,"t1":830,"s":"r"},{"lane":16,"t0":830,"t1":850,"s":"e"},{"lane":16,"t0":850,"t1":855,"s":"d"},{"lane":16,"t0":855,"t1":875,"s":"e"},{"lane":16,"t0":875,"t1":880,"s":"d"},{"lane":16,"t0":880,"t1":891,"s":"e"},{"lane":16,"t0":896,"t1":911,"s":"r"},{"lane":16,"t0":911,"t1":926,"s":"e"},{"lane":16,"t0":926,"t1":937,"s":"d"},{"lane":16,"t0":937,"t1":952,"s":"e"},{"lane":16,"t0":952,"t1":963,"s":"d"},{"lane":16,"t0":963,"t1":973,"s":"e"},{"lane":16,"t0":979,"t1":984,"s":"e"},{"lane":16,"t0":984,"t1":989,"s":"d"},{"lane":16,"t0":989,"t1":994,"s":"e"},{"lane":16,"t0":994,"t1":1004,"s":"d"},{"lane":16,"t0":1009,"t1":1014,"s":"g"},{"lane":16,"t0":1015,"t1":1024,"s":"d"},{"lane":16,"t0":1056,"t1":1066,"s":"d"},{"lane":16,"t0":1066,"t1":1071,"s":"e"},{"lane":16,"t0":1075,"t1":1080,"s":"e"},{"lane":16,"t0":1086,"t1":1091,"s":"d"},{"lane":16,"t0":1096,"t1":1106,"s":"e"},{"lane":16,"t0":1112,"t1":1117,"s":"d"},{"lane":16,"t0":1132,"t1":1163,"s":"d"},
{"lane":17,"t0":599,"t1":628,"s":"e"},{"lane":17,"t0":628,"t1":663,"s":"S"},{"lane":17,"t0":663,"t1":669,"s":"d"},{"lane":17,"t0":669,"t1":673,"s":"A"},{"lane":17,"t0":673,"t1":691,"s":"d"},{"lane":17,"t0":691,"t1":697,"s":"e"},{"lane":17,"t0":702,"t1":712,"s":"d"},{"lane":17,"t0":712,"t1":727,"s":"e"},{"lane":17,"t0":727,"t1":737,"s":"d"},{"lane":17,"t0":737,"t1":757,"s":"r"},{"lane":17,"t0":757,"t1":763,"s":"d"},{"lane":17,"t0":763,"t1":778,"s":"g"},{"lane":17,"t0":778,"t1":793,"s":"e"},{"lane":17,"t0":793,"t1":799,"s":"d"},{"lane":17,"t0":799,"t1":814,"s":"e"},{"lane":17,"t0":819,"t1":845,"s":"e"},{"lane":17,"t0":845,"t1":850,"s":"d"},{"lane":17,"t0":850,"t1":860,"s":"r"},{"lane":17,"t0":860,"t1":871,"s":"d"},{"lane":17,"t0":871,"t1":890,"s":"e"},{"lane":17,"t0":892,"t1":907,"s":"d"},{"lane":17,"t0":908,"t1":923,"s":"r"},{"lane":17,"t0":923,"t1":928,"s":"d"},{"lane":17,"t0":928,"t1":938,"s":"e"},{"lane":17,"t0":938,"t1":943,"s":"d"},{"lane":17,"t0":943,"t1":948,"s":"e"},{"lane":17,"t0":948,"t1":963,"s":"d"},{"lane":17,"t0":963,"t1":967,"s":"e"},{"lane":17,"t0":979,"t1":985,"s":"d"},{"lane":17,"t0":985,"t1":989,"s":"e"},{"lane":17,"t0":990,"t1":1003,"s":"r"},{"lane":17,"t0":1064,"t1":1073,"s":"d"},{"lane":17,"t0":1078,"t1":1093,"s":"g"},{"lane":17,"t0":1093,"t1":1103,"s":"d"},{"lane":17,"t0":1104,"t1":1119,"s":"r"},{"lane":17,"t0":1124,"t1":1129,"s":"e"},{"lane":17,"t0":1129,"t1":1149,"s":"d"},{"lane":17,"t0":1149,"t1":1154,"s":"d"},{"lane":17,"t0":1159,"t1":1185,"s":"e"},{"lane":17,"t0":1185,"t1":1190,"s":"d"},{"lane":17,"t0":1190,"t1":1201,"s":"g"},{"lane":17,"t0":1201,"t1":1206,"s":"d"},{"lane":17,"t0":1206,"t1":1216,"s":"r"},{"lane":17,"t0":1216,"t1":1246,"s":"g"},{"lane":17,"t0":1246,"t1":1252,"s":"d"},{"lane":17,"t0":1252,"t1":1267,"s":"e"},{"lane":17,"t0":1277,"t1":1282,"s":"d"},{"lane":17,"t0":1282,"t1":1292,"s":"e"},{"lane":17,"t0":1292,"t1":1298,"s":"g"},{"lane":17,"t0":1298,"t1":1307,"s":"e"},{"lane":17,"t0":1307,"t1":1313,"s":"d"},{"lane":17,"t0":1313,"t1":1318,"s":"e"},{"lane":17,"t0":1318,"t1":1323,"s":"d"},{"lane":17,"t0":1323,"t1":1359,"s":"r"},{"lane":17,"t0":1359,"t1":1370,"s":"d"},
{"lane":19,"t0":819,"t1":824,"s":"d"},{"lane":19,"t0":826,"t1":830,"s":"d"},{"lane":19,"t0":830,"t1":835,"s":"d"},{"lane":19,"t0":841,"t1":856,"s":"S"},{"lane":19,"t0":856,"t1":861,"s":"g"},{"lane":19,"t0":861,"t1":866,"s":"A"},{"lane":19,"t0":867,"t1":881,"s":"g"},{"lane":19,"t0":881,"t1":892,"s":"d"},{"lane":19,"t0":892,"t1":902,"s":"g"},{"lane":19,"t0":902,"t1":912,"s":"d"},{"lane":19,"t0":912,"t1":922,"s":"e"},{"lane":19,"t0":922,"t1":927,"s":"d"},{"lane":19,"t0":927,"t1":943,"s":"g"},{"lane":19,"t0":943,"t1":948,"s":"e"},{"lane":19,"t0":948,"t1":953,"s":"d"},{"lane":19,"t0":953,"t1":963,"s":"e"},{"lane":19,"t0":963,"t1":968,"s":"d"},{"lane":19,"t0":968,"t1":973,"s":"e"},{"lane":19,"t0":973,"t1":983,"s":"d"},{"lane":19,"t0":997,"t1":1032,"s":"d"},{"lane":19,"t0":1032,"t1":1052,"s":"e"},{"lane":19,"t0":1058,"t1":1062,"s":"d"},{"lane":19,"t0":1062,"t1":1067,"s":"e"},{"lane":19,"t0":1083,"t1":1093,"s":"g"},{"lane":19,"t0":1093,"t1":1098,"s":"e"},{"lane":19,"t0":1098,"t1":1119,"s":"d"},{"lane":19,"t0":1134,"t1":1162,"s":"S"},{"lane":19,"t0":1162,"t1":1192,"s":"e"},{"lane":19,"t0":1192,"t1":1230,"s":"A"},{"lane":19,"t0":1230,"t1":1251,"s":"g"},{"lane":19,"t0":1355,"t1":1360,"s":"e"},{"lane":19,"t0":1360,"t1":1375,"s":"d"},{"lane":19,"t0":1375,"t1":1385,"s":"e"},{"lane":19,"t0":1385,"t1":1436,"s":"d"},{"lane":19,"t0":1436,"t1":1440,"s":"r"},
{"lane":20,"t0":878,"t1":883,"s":"d"},{"lane":20,"t0":884,"t1":893,"s":"d"},{"lane":20,"t0":893,"t1":924,"s":"d"},{"lane":20,"t0":934,"t1":949,"s":"g"},{"lane":20,"t0":949,"t1":964,"s":"d"},{"lane":20,"t0":964,"t1":969,"s":"e"},{"lane":20,"t0":969,"t1":979,"s":"d"},{"lane":20,"t0":979,"t1":990,"s":"g"},{"lane":20,"t0":990,"t1":1005,"s":"d"},{"lane":20,"t0":1005,"t1":1020,"s":"S"},{"lane":20,"t0":1020,"t1":1025,"s":"g"},{"lane":20,"t0":1025,"t1":1040,"s":"r"},{"lane":20,"t0":1040,"t1":1046,"s":"A"},{"lane":20,"t0":1046,"t1":1056,"s":"g"},{"lane":20,"t0":1056,"t1":1097,"s":"d"},{"lane":20,"t0":1097,"t1":1110,"s":"S"},{"lane":20,"t0":1110,"t1":1116,"s":"d"},{"lane":20,"t0":1121,"t1":1137,"s":"A"},{"lane":20,"t0":1137,"t1":1152,"s":"d"},{"lane":20,"t0":1152,"t1":1157,"s":"e"},{"lane":20,"t0":1157,"t1":1180,"s":"r"},{"lane":20,"t0":1417,"t1":1423,"s":"r"},{"lane":20,"t0":1423,"t1":1432,"s":"e"},{"lane":20,"t0":1432,"t1":1440,"s":"d"}
]},
"vconcat":[
{"width":2828,"height":1003,"resolve":{"scale":{"x":"independent","y":"independent"}},"layer":[
{"layer":[
{"data":{"values":[{"a":0.492,"b":17.49,"c":-1.394,"d":17.82}]},"mark":{"type":"rect","fill":"#eeeeee"},"encoding":{
"x":{"field":"a","type":"quantitative","title":null,"scale":{"domain":[0.0746,24.3078],"nice":false,"zero":false},"axis":{"values":[1,2,3,4,5,6,7,8,9,10,11,12,13,14,15,16,17],"format":"d","offset":-64.5,"domain":false,"grid":false,"zindex":1,"tickColor":"#999999","tickWidth":3,"tickSize":12,"labelColor":"#999999","labelFontSize":19,"labelPadding":4,"title":null,"labelFlush":false,"labelOverlap":false}},
"x2":{"field":"b"},
"y":{"field":"c","type":"quantitative","title":null,"scale":{"domain":[-1.394,20.287],"nice":false,"zero":false},"axis":{"values":[0,1,2,3,4,5,6,7,8,9,10,11,12,13,14,15,16,17],"format":"d","offset":-108,"domain":false,"grid":false,"zindex":1,"tickColor":"#999999","tickWidth":3,"tickSize":11,"labelColor":"#999999","labelFontSize":19,"labelPadding":6,"title":null,"labelFlush":false,"labelOverlap":false}},
"y2":{"field":"d"}}},
{"data":{"values":[{"a":1,"b":17.49,"c":0}]},"mark":{"type":"rule","stroke":"#999999","strokeWidth":4},"encoding":{"x":{"field":"a","type":"quantitative","scale":{"domain":[0.0746,24.3078],"nice":false,"zero":false}},"x2":{"field":"b"},"y":{"field":"c","type":"quantitative","scale":{"domain":[-1.394,20.287],"nice":false,"zero":false}}}},
{"data":{"values":[{"a":1,"c":0,"d":17.82}]},"mark":{"type":"rule","stroke":"#999999","strokeWidth":4},"encoding":{"x":{"field":"a","type":"quantitative","scale":{"domain":[0.0746,24.3078],"nice":false,"zero":false}},"y":{"field":"c","type":"quantitative","scale":{"domain":[-1.394,20.287],"nice":false,"zero":false}},"y2":{"field":"d"}}},
{"data":{"values":[{"a":14.01,"b":14.87,"c":2.42}]},"mark":{"type":"rule","stroke":"#ffffff","strokeWidth":44,"strokeCap":"round"},"encoding":{"x":{"field":"a","type":"quantitative","scale":{"domain":[0.0746,24.3078],"nice":false,"zero":false}},"x2":{"field":"b"},"y":{"field":"c","type":"quantitative","scale":{"domain":[-1.394,20.287],"nice":false,"zero":false}}}},
{"data":{"name":"lines"},"mark":{"type":"rule","stroke":"#666666","strokeWidth":4},"encoding":{"x":{"field":"from","type":"quantitative","scale":{"domain":[0.0746,24.3078],"nice":false,"zero":false}},"x2":{"field":"to"},"y":{"field":"avg","type":"quantitative","scale":{"domain":[-1.394,20.287],"nice":false,"zero":false}}}},
{"data":{"name":"glyphs"},"mark":{"type":"rule","strokeWidth":24,"strokeCap":"round"},"encoding":{"x":{"field":"d0","type":"quantitative","scale":{"domain":[0.0746,24.3078],"nice":false,"zero":false}},"x2":{"field":"d1"},"y":{"field":"avg","type":"quantitative","scale":{"domain":[-1.394,20.287],"nice":false,"zero":false}},"stroke":{"field":"kind","type":"nominal","legend":null,"scale":{"domain":["red","light","blue","dark"],"range":["#e4002b","#99c6ff","#0a7fff","#004db3"]}}}},
{"data":{"name":"glyphs"},"transform":[{"filter":"datum.stress=='high'"}],"mark":{"type":"rule","strokeWidth":13,"strokeCap":"round","stroke":"#ffffff"},"encoding":{"x":{"field":"d0","type":"quantitative","scale":{"domain":[0.0746,24.3078],"nice":false,"zero":false}},"x2":{"field":"d1"},"y":{"field":"avg","type":"quantitative","scale":{"domain":[-1.394,20.287],"nice":false,"zero":false}}}},
{"data":{"name":"glyphs"},"transform":[{"filter":"datum.stress=='low'"}],"mark":{"type":"rule","strokeWidth":6,"strokeCap":"round","stroke":"#ffffff"},"encoding":{"x":{"field":"d0","type":"quantitative","scale":{"domain":[0.0746,24.3078],"nice":false,"zero":false}},"x2":{"field":"d1"},"y":{"field":"avg","type":"quantitative","scale":{"domain":[-1.394,20.287],"nice":false,"zero":false}}}},
{"data":{"name":"glyphs"},"transform":[{"filter":"datum.kind=='dark'"}],"mark":{"type":"point","filled":true,"fill":"#ffffff","opacity":1,"size":576,"shape":"M -0.264 -0.5 L 0.5 0.264 L 0.264 0.5 L -0.5 -0.264 Z"},"encoding":{"x":{"field":"d0","type":"quantitative","scale":{"domain":[0.0746,24.3078],"nice":false,"zero":false}},"y":{"field":"avg","type":"quantitative","scale":{"domain":[-1.394,20.287],"nice":false,"zero":false}}}},
{"data":{"values":[{"a":14.98,"c":1.57}]},"mark":{"type":"point","filled":false,"fill":null,"stroke":"#e6c800","strokeOpacity":0.6,"strokeWidth":12,"strokeJoin":"round","size":3136,"shape":"M -0.43 -0.82 L -0.32 -0.93 L -0.18 -0.82 L -0.04 -0.32 L 0.21 -0.39 L 0.32 -0.21 L 0.46 -0.29 L 0.61 -0.14 L 0.75 -0.21 L 0.93 0 L 0.93 0.5 L 0.71 0.96 L -0.18 0.96 L -0.86 0.14 L -0.86 -0.07 L -0.64 -0.11 L -0.36 0.14 Z"},"encoding":{"x":{"field":"a","type":"quantitative","scale":{"domain":[0.0746,24.3078],"nice":false,"zero":false}},"y":{"field":"c","type":"quantitative","scale":{"domain":[-1.394,20.287],"nice":false,"zero":false}}}},
{"data":{"values":[{"a":14.98,"c":1.57}]},"mark":{"type":"point","filled":true,"fill":"#ffffff","stroke":"#000000","strokeWidth":3,"opacity":1,"size":3136,"shape":"M -0.43 -0.82 L -0.32 -0.93 L -0.18 -0.82 L -0.04 -0.32 L 0.21 -0.39 L 0.32 -0.21 L 0.46 -0.29 L 0.61 -0.14 L 0.75 -0.21 L 0.93 0 L 0.93 0.5 L 0.71 0.96 L -0.18 0.96 L -0.86 0.14 L -0.86 -0.07 L -0.64 -0.11 L -0.36 0.14 Z M 0.02 0.25 L 0.02 0.72 M 0.3 0.25 L 0.3 0.72 M 0.58 0.25 L 0.58 0.72"},"encoding":{"x":{"field":"a","type":"quantitative","scale":{"domain":[0.0746,24.3078],"nice":false,"zero":false}},"y":{"field":"c","type":"quantitative","scale":{"domain":[-1.394,20.287],"nice":false,"zero":false}}}},
{"data":{"values":[{"a":1.171,"c":17.43,"t":"average times occurred per day"}]},"mark":{"type":"text","align":"left","baseline":"middle","fontSize":24.2,"fill":"#999999"},"encoding":{"x":{"field":"a","type":"quantitative","scale":{"domain":[0.0746,24.3078],"nice":false,"zero":false}},"y":{"field":"c","type":"quantitative","scale":{"domain":[-1.394,20.287],"nice":false,"zero":false}},"text":{"field":"t"}}},
{"data":{"values":[{"a":17.14,"c":0.6,"t":"total days occurred"}]},"mark":{"type":"text","align":"right","baseline":"middle","fontSize":24.5,"fill":"#999999"},"encoding":{"x":{"field":"a","type":"quantitative","scale":{"domain":[0.0746,24.3078],"nice":false,"zero":false}},"y":{"field":"c","type":"quantitative","scale":{"domain":[-1.394,20.287],"nice":false,"zero":false}},"text":{"field":"t"}}},
{"data":{"values":[{"a":5.3,"c":8.56,"t":"A"}]},"mark":{"type":"text","align":"center","baseline":"middle","fontSize":92,"fontWeight":"bold","fill":"#333333"},"encoding":{"x":{"field":"a","type":"quantitative","scale":{"domain":[0.0746,24.3078],"nice":false,"zero":false}},"y":{"field":"c","type":"quantitative","scale":{"domain":[-1.394,20.287],"nice":false,"zero":false}},"text":{"field":"t"}}},
{"data":{"values":[{"a":0.503,"c":19.0,"t":"Chronodes"}]},"mark":{"type":"text","align":"left","baseline":"middle","fontSize":44,"fontWeight":"bold","fontStyle":"italic","fill":"#bbbbbb"},"encoding":{"x":{"field":"a","type":"quantitative","scale":{"domain":[0.0746,24.3078],"nice":false,"zero":false}},"y":{"field":"c","type":"quantitative","scale":{"domain":[-1.394,20.287],"nice":false,"zero":false}},"text":{"field":"t"}}},
{"data":{"values":[{"a":0.923,"c":19.38},{"a":1.55,"c":19.38},{"a":1.83,"c":18.56},{"a":2.47,"c":18.56}]},"mark":{"type":"line","stroke":"#ffffff","strokeWidth":3.5,"interpolate":"monotone"},"encoding":{"x":{"field":"a","type":"quantitative","scale":{"domain":[0.0746,24.3078],"nice":false,"zero":false}},"y":{"field":"c","type":"quantitative","scale":{"domain":[-1.394,20.287],"nice":false,"zero":false}}}}
]},
{"layer":[
{"data":{"values":[{"a":-4.348,"b":4.63,"c":-1.22,"d":6.11}]},"mark":{"type":"rect","fill":"#ffffff","cornerRadius":30},"encoding":{"x":{"field":"a","type":"quantitative","axis":null,"scale":{"domain":[-35.904,5.993],"nice":false,"zero":false}},"x2":{"field":"b"},"y":{"field":"c","type":"quantitative","axis":null,"scale":{"domain":[-3.75,11.153],"nice":false,"zero":false}},"y2":{"field":"d"}}},
{"data":{"name":"key"},"mark":{"type":"point","filled":true,"opacity":1,"size":1600,"shape":"circle"},"encoding":{"x":{"field":"col","type":"quantitative","axis":null,"scale":{"domain":[-35.904,5.993],"nice":false,"zero":false}},"y":{"field":"row","type":"quantitative","axis":null,"scale":{"domain":[-3.75,11.153],"nice":false,"zero":false}},"fill":{"field":"kind","type":"nominal","legend":null,"scale":{"domain":["red","light","blue","dark"],"range":["#e4002b","#99c6ff","#117fff","#004db3"]}}}},
{"data":{"name":"key"},"transform":[{"filter":"datum.stress=='low'"}],"mark":{"type":"point","filled":true,"opacity":1,"fill":"#ffffff","size":110,"shape":"circle"},"encoding":{"x":{"field":"col","type":"quantitative","axis":null,"scale":{"domain":[-35.904,5.993],"nice":false,"zero":false}},"y":{"field":"row","type":"quantitative","axis":null,"scale":{"domain":[-3.75,11.153],"nice":false,"zero":false}}}},
{"data":{"name":"key"},"transform":[{"filter":"datum.stress=='high'"}],"mark":{"type":"point","filled":true,"opacity":1,"fill":"#ffffff","size":420,"shape":"circle"},"encoding":{"x":{"field":"col","type":"quantitative","axis":null,"scale":{"domain":[-35.904,5.993],"nice":false,"zero":false}},"y":{"field":"row","type":"quantitative","axis":null,"scale":{"domain":[-3.75,11.153],"nice":false,"zero":false}}}},
{"data":{"name":"key"},"transform":[{"filter":"datum.kind=='dark'"}],"mark":{"type":"point","filled":true,"opacity":1,"fill":"#ffffff","size":1600,"shape":"M -0.264 -0.5 L 0.5 0.264 L 0.264 0.5 L -0.5 -0.264 Z"},"encoding":{"x":{"field":"col","type":"quantitative","axis":null,"scale":{"domain":[-35.904,5.993],"nice":false,"zero":false}},"y":{"field":"row","type":"quantitative","axis":null,"scale":{"domain":[-3.75,11.153],"nice":false,"zero":false}}}},
{"data":{"values":[{"a":-3.28,"b":3.4,"c":2.67}]},"mark":{"type":"rule","stroke":"#222222","strokeWidth":3,"strokeDash":[8,6]},"encoding":{"x":{"field":"a","type":"quantitative","axis":null,"scale":{"domain":[-35.904,5.993],"nice":false,"zero":false}},"x2":{"field":"b"},"y":{"field":"c","type":"quantitative","axis":null,"scale":{"domain":[-3.75,11.153],"nice":false,"zero":false}}}},
{"data":{"values":[{"a":-3.28,"c":3.29,"t":"SMOKING"},{"a":-3.28,"c":1,"t":"ACTIVITY"}]},"mark":{"type":"text","align":"left","baseline":"middle","fontSize":37,"fill":"#2a2a2a"},"encoding":{"x":{"field":"a","type":"quantitative","axis":null,"scale":{"domain":[-35.904,5.993],"nice":false,"zero":false}},"y":{"field":"c","type":"quantitative","axis":null,"scale":{"domain":[-3.75,11.153],"nice":false,"zero":false}},"text":{"field":"t"}}},
{"data":{"values":[{"a":1.985,"c":5.19,"t":"STRESS"}]},"mark":{"type":"text","align":"center","baseline":"middle","fontSize":36.5,"fill":"#2a2a2a"},"encoding":{"x":{"field":"a","type":"quantitative","axis":null,"scale":{"domain":[-35.904,5.993],"nice":false,"zero":false}},"y":{"field":"c","type":"quantitative","axis":null,"scale":{"domain":[-3.75,11.153],"nice":false,"zero":false}},"text":{"field":"t"}}},
{"data":{"values":[{"a":0.96,"c":4.18,"t":"-"},{"a":1.94,"c":4.18,"t":"L"},{"a":2.98,"c":4.18,"t":"H"},{"a":-0.126,"c":1.97,"t":"-"},{"a":-0.126,"c":1,"t":"L"},{"a":-0.126,"c":0,"t":"H"}]},"mark":{"type":"text","align":"center","baseline":"middle","fontSize":34,"fill":"#2a2a2a"},"encoding":{"x":{"field":"a","type":"quantitative","axis":null,"scale":{"domain":[-35.904,5.993],"nice":false,"zero":false}},"y":{"field":"c","type":"quantitative","axis":null,"scale":{"domain":[-3.75,11.153],"nice":false,"zero":false}},"text":{"field":"t"}}},
{"data":{"values":[{"a":-3.59,"c":7.15,"t":"C"}]},"mark":{"type":"text","align":"center","baseline":"middle","fontSize":92,"fontWeight":"bold","fill":"#333333"},"encoding":{"x":{"field":"a","type":"quantitative","axis":null,"scale":{"domain":[-35.904,5.993],"nice":false,"zero":false}},"y":{"field":"c","type":"quantitative","axis":null,"scale":{"domain":[-3.75,11.153],"nice":false,"zero":false}},"text":{"field":"t"}}}
]}
]},
{"width":2828,"height":375,"view":{"fill":"#333333","stroke":null},"layer":[
{"data":{"name":"bars"},"mark":{"type":"bar","height":12},"encoding":{"x":{"field":"t0","type":"quantitative","scale":{"domain":[0,1440],"nice":false,"zero":false,"padding":0},"axis":{"orient":"top","values":[360,720,1080,1440],"labelExpr":"(datum.value/60)+':00'","domain":false,"ticks":false,"grid":false,"title":null,"labelColor":"#999999","labelFontSize":19,"labelAlign":"right","labelOffset":-8,"labelPadding":4,"labelFlush":false,"labelOverlap":false}},"x2":{"field":"t1"},"y":{"field":"lane","type":"quantitative","axis":null,"scale":{"domain":[-0.9375,22.5],"reverse":true,"nice":false,"zero":false,"padding":0}},"fill":{"field":"s","type":"nominal","legend":null,"scale":{"domain":["S","A","d","e","g","r"],"range":["#e4002b","#004db3","#2f333a","#34383b","#3a3a3a","#393031"]}}}},
{"data":{"values":[{"y":-0.84},{"y":3.09},{"y":7.12},{"y":11.12},{"y":15.12},{"y":18.12},{"y":22.31}]},"mark":{"type":"rule","stroke":"#000000","strokeWidth":2},"encoding":{"y":{"field":"y","type":"quantitative","axis":null,"scale":{"domain":[-0.9375,22.5],"reverse":true,"nice":false,"zero":false,"padding":0}}}},
{"data":{"values":[{"t":10,"l":0},{"t":11,"l":4},{"t":12,"l":8},{"t":14,"l":12},{"t":15,"l":16},{"t":16,"l":19}]},"mark":{"type":"text","align":"left","baseline":"middle","fontSize":17,"fill":"#ffffff"},"encoding":{"x":{"datum":10,"type":"quantitative","scale":{"domain":[0,1440],"nice":false,"zero":false,"padding":0}},"y":{"field":"l","type":"quantitative","axis":null,"scale":{"domain":[-0.9375,22.5],"reverse":true,"nice":false,"zero":false,"padding":0}},"text":{"field":"t"}}},
{"data":{"values":[{"a":15,"c":-1.78,"t":"↙ Participant ID"}]},"mark":{"type":"text","align":"left","baseline":"middle","fontSize":19,"fill":"#999999"},"encoding":{"x":{"field":"a","type":"quantitative","scale":{"domain":[0,1440],"nice":false,"zero":false,"padding":0}},"y":{"field":"c","type":"quantitative","axis":null,"scale":{"domain":[-0.9375,22.5],"reverse":true,"nice":false,"zero":false,"padding":0}},"text":{"field":"t"}}},
{"data":{"values":[{"a":313.6,"c":11.06,"t":"B"}]},"mark":{"type":"text","align":"center","baseline":"middle","fontSize":92,"fontWeight":"bold","fill":"#ffffff"},"encoding":{"x":{"field":"a","type":"quantitative","scale":{"domain":[0,1440],"nice":false,"zero":false,"padding":0}},"y":{"field":"c","type":"quantitative","axis":null,"scale":{"domain":[-0.9375,22.5],"reverse":true,"nice":false,"zero":false,"padding":0}},"text":{"field":"t"}}}
]}
]}
